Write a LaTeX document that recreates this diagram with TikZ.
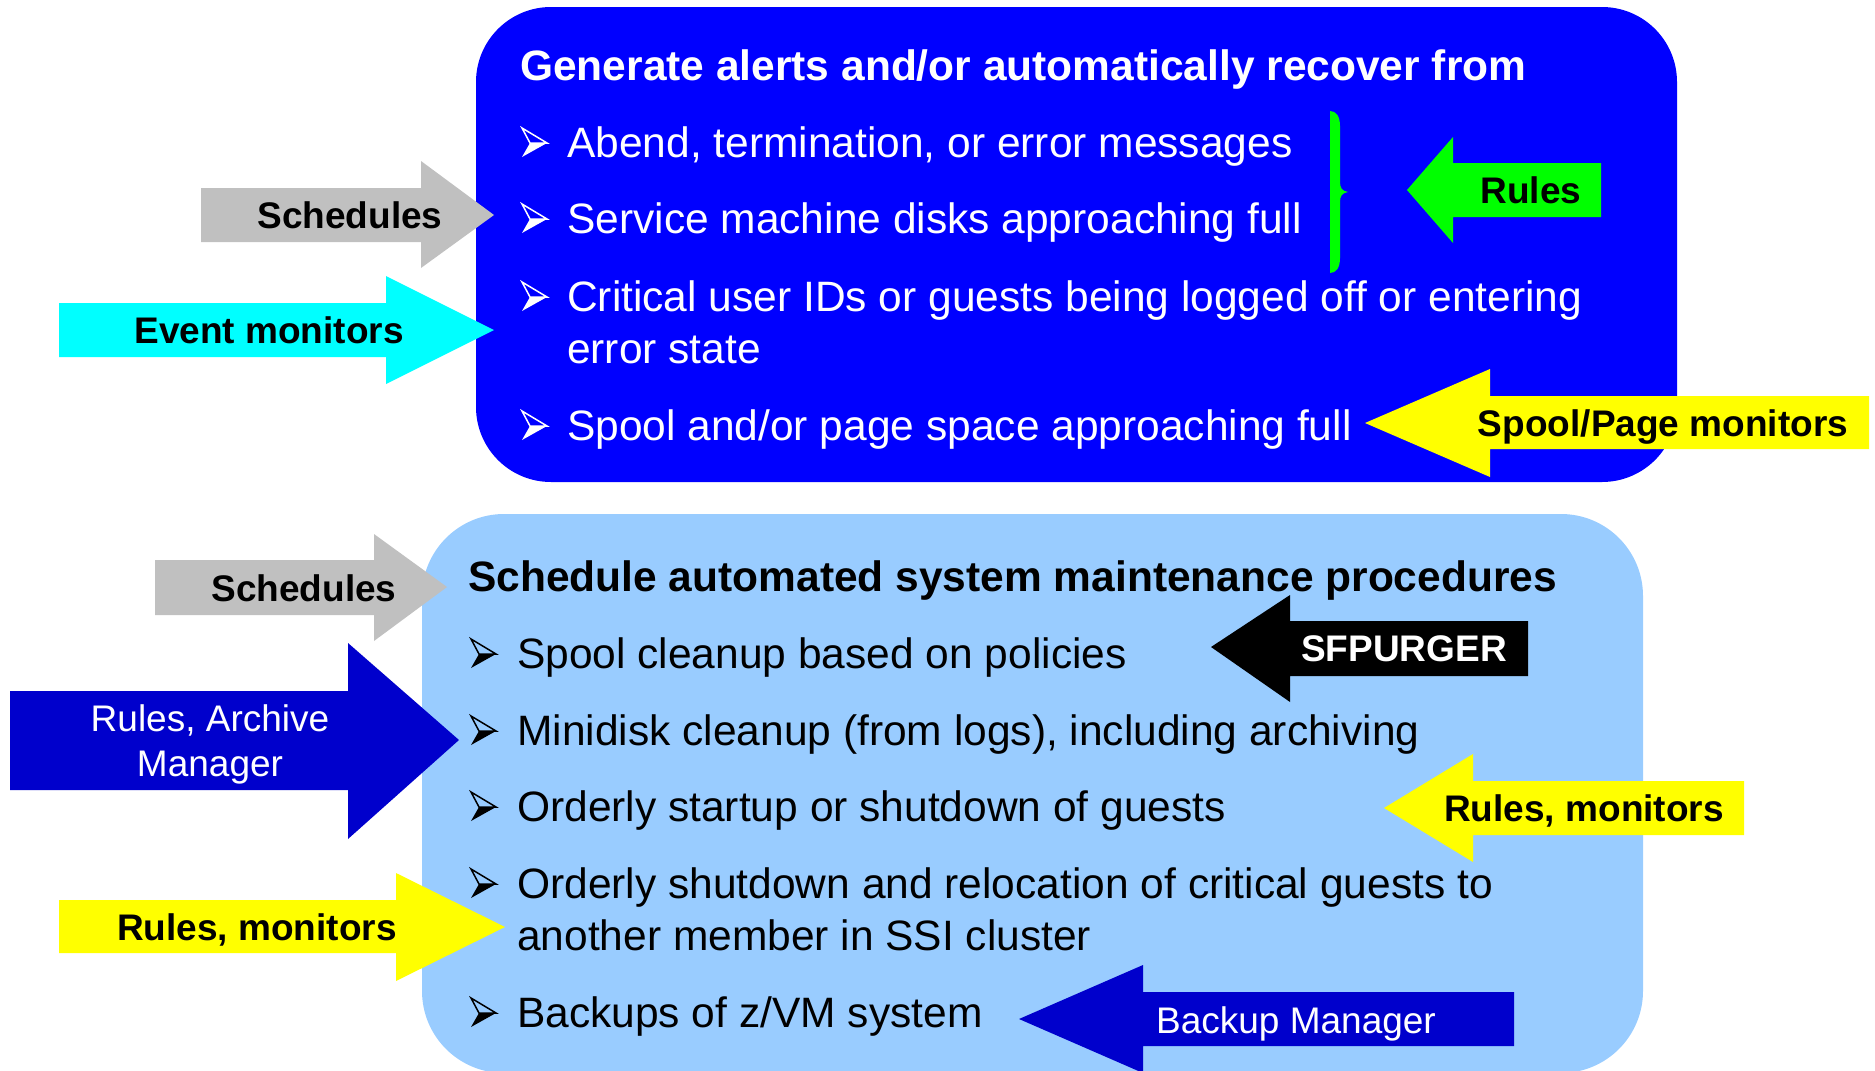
\documentclass[tikz,border=0pt]{standalone}
\usepackage{fontspec}
\setmainfont{Liberation Sans}
\definecolor{topblue}{RGB}{0,0,255}
\definecolor{lightbox}{RGB}{153,204,255}
\definecolor{darkarrow}{RGB}{0,0,204}
\definecolor{grayarrow}{RGB}{192,192,192}
\definecolor{cyanarrow}{RGB}{0,255,255}
\definecolor{greenarrow}{RGB}{0,255,0}
\definecolor{yellowarrow}{RGB}{255,255,0}
\newcommand\bigfnt{\fontsize{42.5}{52}\selectfont}
\newcommand\labfnt{\fontsize{37}{45}\selectfont}
\newcommand\bulmark[3]{%
  \draw[#3, line width=1.5, line join=miter] ({#1},{#2-29}) -- ({#1+25},{#2-14}) -- ({#1+8},{#2-14}) -- cycle;
  \fill[#3] ({#1+8},{#2-14}) -- ({#1+25},{#2-14}) -- ({#1},{#2}) -- cycle;}
% right-pointing block arrow: shaftL, shaftT, shaftB, headX, headT, headB, tipX, tipY
\newcommand\rarrow[9]{%
  \fill[#1] (#2,#3) -- (#5,#3) -- (#5,#6) -- (#8,#9) -- (#5,#7) -- (#5,#4) -- (#2,#4) -- cycle;}
\tikzset{
  item/.style={anchor=base west, inner sep=0pt, font=\bigfnt},
  lab/.style={anchor=base, inner sep=0pt, font=\labfnt\bfseries, text=black},
  labn/.style={anchor=base, inner sep=0pt, font=\labfnt, text=white},
}
\begin{document}
\begin{tikzpicture}[x=1pt,y=-1pt]
\useasboundingbox (0,0) rectangle (1875,1071);
% boxes
\fill[topblue, rounded corners=75] (476,7) rectangle (1677,482);
\fill[lightbox, rounded corners=82] (422,514) rectangle (1643,1073);
% brace
\fill[greenarrow] (1330,111) .. controls (1336,111) and (1340,116) .. (1340,126)
  -- (1340,182) .. controls (1340,188) and (1342,191) .. (1348,192)
  .. controls (1342,193) and (1340,196) .. (1340,202)
  -- (1340,258) .. controls (1340,268) and (1336,273) .. (1330,273) -- cycle;
% top box text
\node[item, font=\bigfnt\bfseries, text=white] (t0) at (520,80) {Generate alerts and/or automatically recover from};
\node[item, text=white] (t1) at (567,157) {Abend, termination, or error messages};
\node[item, text=white] (t2) at (567,233) {Service machine disks approaching full};
\node[item, text=white] (t3) at (567,311) {Critical user IDs or guests being logged off or entering};
\node[item, text=white] (t3b) at (567,363) {error state};
\node[item, text=white] (t4) at (567,440) {Spool and/or page space approaching full};
\bulmark{522}{157}{white}
\bulmark{522}{233}{white}
\bulmark{522}{311}{white}
\bulmark{522}{440}{white}
% bottom box text
\node[item, font=\bigfnt\bfseries, text=black] (b0) at (468,591) {Schedule automated system maintenance procedures};
\node[item, text=black] (b1) at (517,668) {Spool cleanup based on policies};
\node[item, text=black] (b2) at (517,745) {Minidisk cleanup (from logs), including archiving};
\node[item, text=black] (b3) at (517,821) {Orderly startup or shutdown of guests};
\node[item, text=black] (b4) at (517,898) {Orderly shutdown and relocation of critical guests to};
\node[item, text=black] (b4b) at (517,950) {another member in SSI cluster};
\node[item, text=black] (b5) at (517,1027) {Backups of z/VM system};
\bulmark{471}{668}{black}
\bulmark{471}{745}{black}
\bulmark{471}{821}{black}
\bulmark{471}{898}{black}
\bulmark{471}{1027}{black}
% right-pointing arrows
\rarrow{grayarrow}{201}{188}{242}{421}{161}{268}{494}{215}
\rarrow{cyanarrow}{59}{303}{357}{386}{276}{384}{494}{330}
\rarrow{grayarrow}{155}{560}{615}{374}{534}{641}{447}{587}
\rarrow{darkarrow}{10}{691}{790}{348}{643}{839}{459}{740}
\rarrow{yellowarrow}{59}{900}{953}{396}{873}{981}{505}{927}
% left-pointing arrows (shaft right end as first x)
\rarrow{greenarrow}{1601}{163}{217}{1453}{137}{243}{1407}{190}
\rarrow{yellowarrow}{1869}{396}{449}{1490}{369}{477}{1365}{423}
\rarrow{black}{1528}{621}{676}{1290}{595}{702}{1211}{647}
\rarrow{yellowarrow}{1744}{781}{835}{1473}{754}{862}{1384}{808}
\rarrow{darkarrow}{1514}{992}{1046}{1143}{965}{1073}{1019}{1019}
% arrow labels
\node[lab] (sch1) at (350,228) {Schedules};
\node[lab] (evm) at (269,343) {Event monitors};
\node[lab] (rul) at (1531,203) {Rules};
\node[lab] (spm) at (1663,436) {Spool/Page monitors};
\node[lab] (sch2) at (304,601) {Schedules};
\node[labn] (ram1) at (210,731) {Rules, Archive};
\node[labn] (ram2) at (210,776) {Manager};
\node[lab] (rm1) at (257,940) {Rules, monitors};
\node[lab, text=white] (sfp) at (1404,661) {SFPURGER};
\node[lab] (rm2) at (1584,821) {Rules, monitors};
\node[labn] (bkm) at (1296,1033) {Backup Manager};
\end{tikzpicture}
\end{document}
